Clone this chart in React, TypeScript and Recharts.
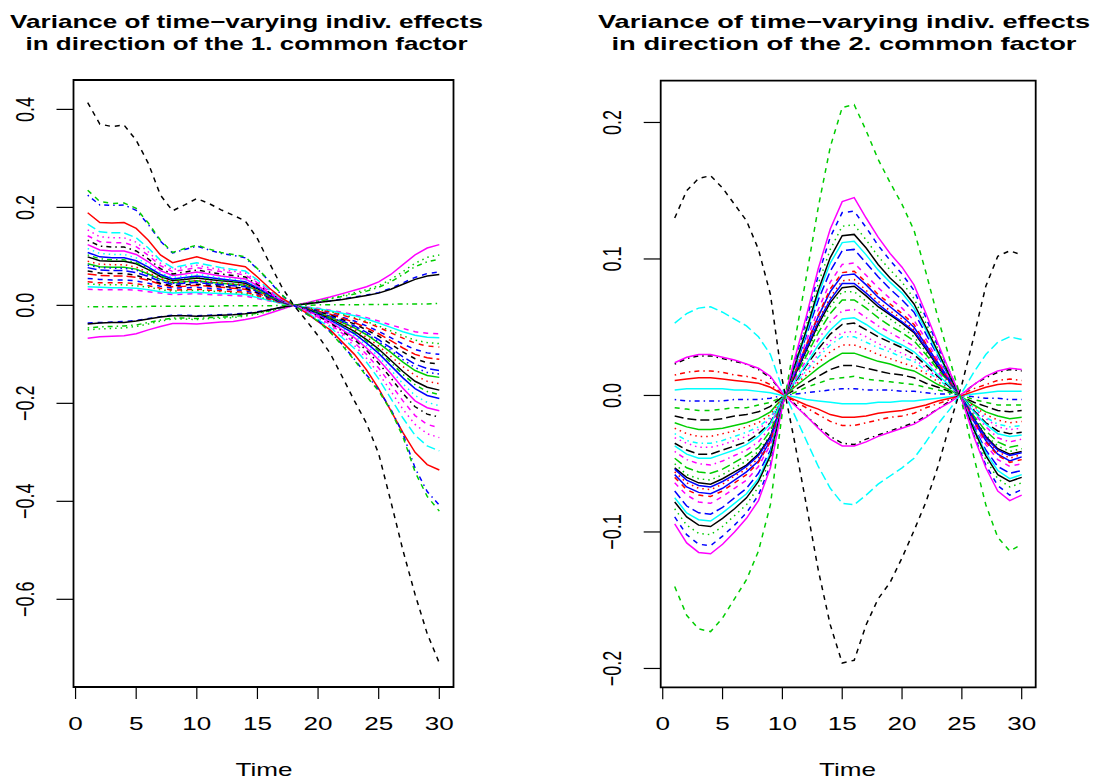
import React from "react"
import { LineChart, Line, XAxis, YAxis, ReferenceArea } from "recharts"

const BLACK = "#000000"
const RED = "#ff0000"
const GREEN = "#00cd00"
const BLUE = "#0000ff"
const CYAN = "#00ffff"
const MAGENTA = "#ff00ff"

const SOLID = undefined
const DASHED = "5 5"
const DOTTED = "1.5 4"
const DOTDASH = "1.5 4 5 4"
const LONGDASH = "9 4"

const FONT = "'Liberation Sans', Arial, Helvetica, sans-serif"
const SX = 1.45

const TIME = [1, 2, 3, 4, 5, 6, 7, 8, 9, 10, 11, 12, 13, 14, 15, 16, 17, 18, 19, 20, 21, 22, 23, 24, 25, 26, 27, 28, 29, 30]
const X_TICKS = [0, 5, 10, 15, 20, 25, 30]
const LEFT_Y_TICKS = [0.4, 0.2, 0, -0.2, -0.4, -0.6]
const RIGHT_Y_TICKS = [0.2, 0.1, 0, -0.1, -0.2]
const TITLE_1 = ["Variance of time\u2212varying indiv. effects", "in direction of the 1. common factor"]
const TITLE_2 = ["Variance of time\u2212varying indiv. effects", "in direction of the 2. common factor"]
const X_LABEL = "Time"

// ---- panel 1: direction of the 1. common factor ----
const leftBlackDashed = [0.414, 0.37, 0.365, 0.368, 0.337, 0.29, 0.225, 0.193, 0.205, 0.218, 0.208, 0.195, 0.184, 0.172, 0.136, 0.086, 0.038, 0.0, -0.03, -0.062, -0.098, -0.146, -0.195, -0.241, -0.303, -0.4, -0.5, -0.59, -0.67, -0.73]
const leftGreenDashed = [0.235, 0.212, 0.208, 0.209, 0.198, 0.168, 0.133, 0.108, 0.116, 0.123, 0.115, 0.108, 0.104, 0.099, 0.075, 0.05, 0.022, 0.0, -0.017, -0.032, -0.055, -0.082, -0.112, -0.145, -0.175, -0.215, -0.268, -0.34, -0.39, -0.42]
const leftBlueDotdash = [0.225, 0.205, 0.204, 0.205, 0.194, 0.165, 0.131, 0.107, 0.114, 0.121, 0.113, 0.106, 0.102, 0.097, 0.074, 0.049, 0.021, 0.0, -0.017, -0.031, -0.054, -0.08, -0.11, -0.142, -0.172, -0.212, -0.262, -0.332, -0.38, -0.408]
const leftRedSolid = [0.189, 0.169, 0.168, 0.169, 0.157, 0.133, 0.103, 0.087, 0.093, 0.099, 0.092, 0.087, 0.083, 0.079, 0.058, 0.035, 0.015, 0, -0.015, -0.033, -0.05, -0.075, -0.1, -0.132, -0.17, -0.215, -0.26, -0.3, -0.325, -0.336]
const leftCyanLong = [0.166, 0.15, 0.148, 0.148, 0.138, 0.117, 0.092, 0.077, 0.082, 0.087, 0.082, 0.077, 0.073, 0.07, 0.052, 0.032, 0.013, 0, -0.013, -0.029, -0.045, -0.066, -0.088, -0.116, -0.15, -0.19, -0.23, -0.265, -0.287, -0.297]
const leftMagentaDotted = [0.154, 0.14, 0.138, 0.138, 0.129, 0.109, 0.086, 0.073, 0.078, 0.082, 0.077, 0.073, 0.07, 0.066, 0.049, 0.03, 0.012, 0, -0.012, -0.026, -0.042, -0.062, -0.082, -0.108, -0.139, -0.175, -0.212, -0.243, -0.262, -0.27]
const leftMagentaDashed = [0.142, 0.13, 0.128, 0.128, 0.12, 0.102, 0.081, 0.069, 0.073, 0.077, 0.073, 0.069, 0.066, 0.062, 0.046, 0.028, 0.012, 0, -0.011, -0.024, -0.039, -0.057, -0.076, -0.1, -0.128, -0.161, -0.195, -0.225, -0.243, -0.25]
const leftBlackDotdash = [0.133, 0.121, 0.119, 0.119, 0.111, 0.095, 0.075, 0.064, 0.068, 0.072, 0.068, 0.064, 0.061, 0.058, 0.043, 0.026, 0.011, 0, -0.01, -0.022, -0.036, -0.053, -0.07, -0.092, -0.118, -0.148, -0.18, -0.207, -0.222, -0.228]
const leftMagentaSolid = [0.124, 0.113, 0.111, 0.111, 0.104, 0.089, 0.071, 0.061, 0.064, 0.068, 0.064, 0.06, 0.057, 0.054, 0.04, 0.025, 0.01, 0, -0.01, -0.021, -0.034, -0.05, -0.066, -0.087, -0.111, -0.139, -0.169, -0.195, -0.209, -0.215]
const leftCyanDotted = [0.116, 0.106, 0.104, 0.104, 0.097, 0.083, 0.066, 0.057, 0.06, 0.063, 0.06, 0.056, 0.054, 0.051, 0.038, 0.023, 0.01, 0, -0.009, -0.02, -0.032, -0.047, -0.062, -0.082, -0.105, -0.132, -0.16, -0.184, -0.198, -0.205]
const leftBlueSolid = [0.108, 0.099, 0.097, 0.097, 0.091, 0.078, 0.063, 0.054, 0.057, 0.06, 0.057, 0.054, 0.051, 0.048, 0.036, 0.022, 0.009, 0, -0.009, -0.019, -0.03, -0.044, -0.058, -0.077, -0.098, -0.123, -0.148, -0.17, -0.184, -0.19]
const leftGreenDotdash = [0.103, 0.095, 0.093, 0.093, 0.087, 0.075, 0.06, 0.052, 0.055, 0.058, 0.055, 0.052, 0.049, 0.047, 0.035, 0.021, 0.009, 0, -0.009, -0.018, -0.028, -0.042, -0.056, -0.073, -0.093, -0.117, -0.141, -0.162, -0.176, -0.182]
const leftBlackSolid = [0.099, 0.091, 0.09, 0.09, 0.085, 0.073, 0.059, 0.051, 0.053, 0.056, 0.053, 0.05, 0.048, 0.045, 0.034, 0.021, 0.009, 0, -0.008, -0.017, -0.027, -0.04, -0.053, -0.07, -0.089, -0.112, -0.135, -0.155, -0.167, -0.173]
const leftRedDotted = [0.09, 0.084, 0.083, 0.083, 0.078, 0.067, 0.055, 0.047, 0.049, 0.051, 0.049, 0.046, 0.044, 0.042, 0.031, 0.019, 0.008, 0, -0.008, -0.016, -0.025, -0.037, -0.049, -0.065, -0.083, -0.104, -0.125, -0.143, -0.155, -0.16]
const leftBlueDotted = [0.082, 0.077, 0.076, 0.076, 0.072, 0.062, 0.052, 0.045, 0.047, 0.049, 0.046, 0.044, 0.042, 0.04, 0.029, 0.018, 0.008, 0, -0.007, -0.015, -0.023, -0.034, -0.045, -0.058, -0.074, -0.092, -0.111, -0.127, -0.137, -0.14]
const leftGreenSolid = [0.085, 0.079, 0.078, 0.078, 0.074, 0.064, 0.053, 0.046, 0.048, 0.05, 0.047, 0.045, 0.043, 0.041, 0.03, 0.018, 0.008, 0, -0.007, -0.015, -0.024, -0.035, -0.046, -0.06, -0.077, -0.096, -0.116, -0.133, -0.143, -0.147]
const leftBlueLong = [0.077, 0.072, 0.071, 0.071, 0.067, 0.059, 0.049, 0.043, 0.045, 0.047, 0.044, 0.042, 0.04, 0.038, 0.028, 0.017, 0.007, 0, -0.007, -0.014, -0.022, -0.032, -0.042, -0.055, -0.07, -0.087, -0.105, -0.12, -0.129, -0.133]
const leftBlackDashedSmall = [0.07, 0.066, 0.065, 0.065, 0.061, 0.054, 0.045, 0.04, 0.042, 0.043, 0.041, 0.039, 0.037, 0.035, 0.026, 0.016, 0.007, 0, -0.006, -0.013, -0.02, -0.029, -0.038, -0.05, -0.063, -0.079, -0.095, -0.109, -0.117, -0.12]
const leftRedLong = [0.064, 0.061, 0.06, 0.06, 0.057, 0.051, 0.043, 0.038, 0.039, 0.041, 0.039, 0.037, 0.035, 0.033, 0.025, 0.015, 0.006, 0, -0.006, -0.012, -0.018, -0.026, -0.035, -0.046, -0.058, -0.072, -0.087, -0.1, -0.107, -0.11]
const leftBlueDashed = [0.055, 0.053, 0.052, 0.052, 0.05, 0.045, 0.039, 0.035, 0.036, 0.037, 0.035, 0.033, 0.032, 0.03, 0.023, 0.014, 0.006, 0, -0.005, -0.011, -0.017, -0.024, -0.032, -0.042, -0.053, -0.066, -0.079, -0.09, -0.097, -0.1]
const leftRedDashed = [0.048, 0.046, 0.046, 0.046, 0.044, 0.04, 0.035, 0.031, 0.032, 0.033, 0.031, 0.03, 0.028, 0.027, 0.02, 0.012, 0.005, 0, -0.005, -0.009, -0.014, -0.02, -0.027, -0.035, -0.045, -0.056, -0.067, -0.077, -0.083, -0.085]
const leftGreenDotted = [0.044, 0.042, 0.042, 0.042, 0.04, 0.037, 0.032, 0.029, 0.03, 0.031, 0.029, 0.028, 0.026, 0.025, 0.019, 0.011, 0.005, 0, -0.004, -0.009, -0.013, -0.019, -0.025, -0.033, -0.042, -0.052, -0.062, -0.071, -0.076, -0.078]
const leftCyanSolid = [0.038, 0.037, 0.036, 0.036, 0.035, 0.032, 0.028, 0.025, 0.026, 0.027, 0.025, 0.024, 0.023, 0.022, 0.016, 0.01, 0.004, 0, -0.004, -0.007, -0.011, -0.016, -0.021, -0.028, -0.036, -0.045, -0.054, -0.061, -0.065, -0.066]
const leftMagentaDashedSmall = [0.033, 0.032, 0.032, 0.032, 0.031, 0.028, 0.025, 0.022, 0.023, 0.024, 0.022, 0.021, 0.02, 0.019, 0.014, 0.009, 0.004, 0, -0.003, -0.006, -0.01, -0.014, -0.019, -0.025, -0.032, -0.04, -0.047, -0.054, -0.057, -0.058]
const leftLowMagenta = [-0.067, -0.064, -0.063, -0.062, -0.058, -0.05, -0.043, -0.037, -0.037, -0.038, -0.036, -0.034, -0.033, -0.029, -0.024, -0.016, -0.008, 0, 0.005, 0.011, 0.017, 0.024, 0.031, 0.038, 0.048, 0.063, 0.083, 0.103, 0.117, 0.124]
const leftLowGreenDotted = [-0.05, -0.048, -0.047, -0.046, -0.043, -0.038, -0.032, -0.028, -0.028, -0.029, -0.027, -0.026, -0.025, -0.022, -0.018, -0.012, -0.006, 0, 0.004, 0.009, 0.014, 0.02, 0.026, 0.032, 0.04, 0.053, 0.069, 0.086, 0.098, 0.103]
const leftLowGreenDotdash = [-0.046, -0.044, -0.043, -0.042, -0.04, -0.035, -0.03, -0.026, -0.026, -0.027, -0.025, -0.024, -0.023, -0.02, -0.016, -0.011, -0.005, 0, 0.004, 0.008, 0.013, 0.018, 0.023, 0.029, 0.037, 0.048, 0.063, 0.079, 0.089, 0.094]
const leftLowBlueDashed = [-0.036, -0.035, -0.034, -0.033, -0.031, -0.027, -0.023, -0.02, -0.02, -0.021, -0.02, -0.019, -0.018, -0.016, -0.013, -0.009, -0.004, 0, 0.003, 0.006, 0.009, 0.013, 0.017, 0.021, 0.026, 0.035, 0.046, 0.057, 0.065, 0.068]
const leftLowBlack = [-0.038, -0.036, -0.035, -0.035, -0.032, -0.028, -0.024, -0.021, -0.021, -0.022, -0.021, -0.02, -0.019, -0.017, -0.014, -0.009, -0.004, 0, 0.003, 0.006, 0.009, 0.012, 0.016, 0.02, 0.025, 0.033, 0.043, 0.053, 0.06, 0.063]
const leftFlatGreen = [-0.003, -0.003, -0.003, -0.003, -0.003, -0.002, -0.002, -0.002, -0.002, -0.002, -0.002, -0.001, -0.001, -0.001, -0.001, -0.001, 0, 0, 0, 0.001, 0.001, 0.001, 0.001, 0.002, 0.002, 0.002, 0.003, 0.003, 0.003, 0.004]

// ---- panel 2: direction of the 2. common factor ----
const rightGreenDashed = [-0.14, -0.161, -0.171, -0.173, -0.163, -0.149, -0.135, -0.114, -0.08, -0.012, 0.038, 0.087, 0.138, 0.182, 0.211, 0.213, 0.194, 0.173, 0.156, 0.14, 0.121, 0.09, 0.057, 0.026, -0.005, -0.045, -0.08, -0.104, -0.114, -0.109]
const rightBlackDashed = [0.13, 0.15, 0.159, 0.161, 0.152, 0.14, 0.128, 0.107, 0.074, 0.011, -0.033, -0.08, -0.128, -0.168, -0.196, -0.194, -0.168, -0.149, -0.137, -0.119, -0.099, -0.078, -0.052, -0.021, 0.008, 0.043, 0.08, 0.102, 0.106, 0.103]
const rightCyanLong = [0.053, 0.06, 0.064, 0.065, 0.061, 0.056, 0.051, 0.043, 0.03, 0.005, -0.014, -0.033, -0.052, -0.068, -0.079, -0.08, -0.073, -0.065, -0.059, -0.053, -0.046, -0.034, -0.021, -0.01, 0.002, 0.017, 0.03, 0.039, 0.043, 0.041]
const rightMagentaSolid = [-0.094, -0.108, -0.115, -0.116, -0.109, -0.1, -0.09, -0.077, -0.053, -0.008, 0.026, 0.058, 0.093, 0.122, 0.142, 0.145, 0.13, 0.116, 0.104, 0.094, 0.081, 0.06, 0.038, 0.017, -0.003, -0.03, -0.053, -0.07, -0.077, -0.073]
const rightBlueDashed = [-0.089, -0.102, -0.109, -0.11, -0.103, -0.095, -0.086, -0.073, -0.051, -0.008, 0.024, 0.055, 0.088, 0.116, 0.134, 0.135, 0.123, 0.11, 0.099, 0.089, 0.077, 0.057, 0.036, 0.017, -0.003, -0.029, -0.051, -0.066, -0.073, -0.069]
const rightGreenDotted = [-0.083, -0.095, -0.101, -0.102, -0.096, -0.088, -0.08, -0.067, -0.047, -0.007, 0.022, 0.051, 0.082, 0.107, 0.124, 0.125, 0.114, 0.102, 0.092, 0.083, 0.071, 0.053, 0.034, 0.015, -0.003, -0.027, -0.047, -0.061, -0.067, -0.064]
const rightBlackSolid = [-0.078, -0.089, -0.095, -0.096, -0.09, -0.083, -0.075, -0.063, -0.044, -0.007, 0.021, 0.048, 0.077, 0.101, 0.117, 0.118, 0.108, 0.096, 0.086, 0.078, 0.067, 0.05, 0.032, 0.014, -0.003, -0.025, -0.044, -0.058, -0.063, -0.06]
const rightCyanSolid = [-0.075, -0.086, -0.091, -0.092, -0.086, -0.079, -0.072, -0.061, -0.042, -0.006, 0.02, 0.046, 0.074, 0.097, 0.112, 0.113, 0.103, 0.092, 0.083, 0.075, 0.064, 0.048, 0.03, 0.014, -0.003, -0.024, -0.042, -0.055, -0.061, -0.058]
const rightBlueLong = [-0.07, -0.081, -0.086, -0.087, -0.082, -0.075, -0.068, -0.057, -0.04, -0.006, 0.019, 0.044, 0.07, 0.091, 0.106, 0.107, 0.097, 0.087, 0.078, 0.07, 0.061, 0.045, 0.029, 0.013, -0.003, -0.023, -0.04, -0.052, -0.057, -0.055]
const rightMagentaDashed = [-0.064, -0.073, -0.078, -0.079, -0.074, -0.068, -0.062, -0.052, -0.036, -0.006, 0.017, 0.04, 0.063, 0.083, 0.096, 0.097, 0.088, 0.079, 0.071, 0.064, 0.055, 0.041, 0.026, 0.012, -0.002, -0.021, -0.036, -0.047, -0.052, -0.05]
const rightRedDashed = [-0.06, -0.069, -0.073, -0.074, -0.07, -0.064, -0.058, -0.049, -0.034, -0.005, 0.016, 0.037, 0.059, 0.078, 0.09, 0.091, 0.083, 0.074, 0.067, 0.06, 0.052, 0.038, 0.024, 0.011, -0.002, -0.019, -0.034, -0.044, -0.049, -0.047]
const rightBlueSolid = [-0.058, -0.067, -0.071, -0.072, -0.068, -0.062, -0.056, -0.048, -0.033, -0.005, 0.016, 0.036, 0.058, 0.076, 0.088, 0.089, 0.081, 0.072, 0.065, 0.058, 0.05, 0.037, 0.024, 0.011, -0.002, -0.019, -0.033, -0.043, -0.048, -0.045]
const rightRedDotted = [-0.056, -0.064, -0.068, -0.069, -0.065, -0.059, -0.054, -0.046, -0.032, -0.005, 0.015, 0.035, 0.055, 0.072, 0.084, 0.085, 0.077, 0.069, 0.062, 0.056, 0.048, 0.036, 0.023, 0.01, -0.002, -0.018, -0.032, -0.041, -0.046, -0.043]
const rightBlueSolid2 = [-0.054, -0.062, -0.066, -0.067, -0.063, -0.058, -0.052, -0.044, -0.031, -0.005, 0.015, 0.034, 0.054, 0.07, 0.082, 0.082, 0.075, 0.067, 0.06, 0.054, 0.047, 0.035, 0.022, 0.01, -0.002, -0.017, -0.031, -0.04, -0.044, -0.042]
const rightBlackSolid2 = [-0.053, -0.06, -0.064, -0.065, -0.061, -0.056, -0.051, -0.043, -0.03, -0.005, 0.014, 0.033, 0.052, 0.068, 0.079, 0.08, 0.073, 0.065, 0.059, 0.053, 0.046, 0.034, 0.021, 0.01, -0.002, -0.017, -0.03, -0.039, -0.043, -0.041]
const rightGreenDotted2 = [-0.05, -0.058, -0.061, -0.062, -0.058, -0.053, -0.048, -0.041, -0.029, -0.004, 0.014, 0.031, 0.05, 0.065, 0.076, 0.076, 0.069, 0.062, 0.056, 0.05, 0.043, 0.032, 0.02, 0.009, -0.002, -0.016, -0.029, -0.037, -0.041, -0.039]
const rightGreenLong = [-0.046, -0.053, -0.056, -0.057, -0.054, -0.049, -0.044, -0.038, -0.026, -0.004, 0.013, 0.029, 0.046, 0.06, 0.07, 0.07, 0.064, 0.057, 0.051, 0.046, 0.04, 0.03, 0.019, 0.009, -0.002, -0.015, -0.026, -0.034, -0.038, -0.036]
const rightMagentaDotdash = [-0.041, -0.047, -0.05, -0.051, -0.048, -0.044, -0.04, -0.034, -0.023, -0.004, 0.011, 0.026, 0.041, 0.054, 0.062, 0.063, 0.057, 0.051, 0.046, 0.041, 0.036, 0.027, 0.017, 0.008, -0.002, -0.013, -0.023, -0.031, -0.034, -0.032]
const rightCyanSolid2 = [-0.037, -0.043, -0.046, -0.046, -0.043, -0.04, -0.036, -0.03, -0.021, -0.003, 0.01, 0.023, 0.037, 0.048, 0.056, 0.057, 0.052, 0.046, 0.041, 0.037, 0.032, 0.024, 0.015, 0.007, -0.001, -0.012, -0.021, -0.028, -0.03, -0.029]
const rightBlackLong = [-0.035, -0.04, -0.043, -0.043, -0.04, -0.037, -0.034, -0.028, -0.02, -0.003, 0.009, 0.022, 0.034, 0.045, 0.052, 0.053, 0.048, 0.043, 0.039, 0.035, 0.03, 0.022, 0.014, 0.006, -0.001, -0.011, -0.02, -0.026, -0.028, -0.027]
const rightMagentaDotted = [-0.031, -0.035, -0.038, -0.038, -0.036, -0.033, -0.03, -0.025, -0.017, -0.003, 0.008, 0.019, 0.03, 0.04, 0.046, 0.047, 0.043, 0.038, 0.034, 0.031, 0.027, 0.02, 0.013, 0.006, -0.001, -0.01, -0.017, -0.023, -0.025, -0.024]
const rightCyanDotdash = [-0.028, -0.033, -0.035, -0.035, -0.033, -0.03, -0.027, -0.023, -0.016, -0.002, 0.008, 0.018, 0.028, 0.037, 0.043, 0.043, 0.039, 0.035, 0.032, 0.028, 0.025, 0.018, 0.012, 0.005, -0.001, -0.009, -0.016, -0.021, -0.023, -0.022]
const rightRedDotted2 = [-0.024, -0.028, -0.03, -0.03, -0.028, -0.026, -0.023, -0.02, -0.014, -0.002, 0.007, 0.015, 0.024, 0.032, 0.037, 0.037, 0.034, 0.03, 0.027, 0.024, 0.021, 0.016, 0.01, 0.005, -0.001, -0.008, -0.014, -0.018, -0.02, -0.019]
const rightGreenSolid = [-0.02, -0.023, -0.025, -0.025, -0.024, -0.022, -0.02, -0.017, -0.012, -0.002, 0.006, 0.013, 0.02, 0.026, 0.031, 0.031, 0.028, 0.025, 0.023, 0.02, 0.018, 0.013, 0.008, 0.004, -0.001, -0.007, -0.012, -0.015, -0.017, -0.016]
const rightBlackLong2 = [-0.015, -0.017, -0.018, -0.018, -0.017, -0.015, -0.014, -0.012, -0.008, -0.001, 0.004, 0.009, 0.014, 0.019, 0.022, 0.022, 0.02, 0.018, 0.016, 0.015, 0.013, 0.009, 0.006, 0.003, -0.001, -0.005, -0.008, -0.011, -0.012, -0.011]
const rightGreenDashed2 = [-0.009, -0.01, -0.011, -0.011, -0.01, -0.009, -0.009, -0.007, -0.005, -0.001, 0.002, 0.006, 0.009, 0.012, 0.013, 0.014, 0.012, 0.011, 0.01, 0.009, 0.008, 0.006, 0.004, 0.002, 0, -0.003, -0.005, -0.007, -0.007, -0.007]
const rightBlueDotdash = [-0.003, -0.004, -0.004, -0.004, -0.004, -0.003, -0.003, -0.003, -0.002, 0, 0.001, 0.002, 0.003, 0.004, 0.005, 0.005, 0.004, 0.004, 0.004, 0.003, 0.003, 0.002, 0.001, 0.001, 0, -0.001, -0.002, -0.002, -0.003, -0.003]
const rightCyanSolid3 = [0.004, 0.005, 0.005, 0.005, 0.005, 0.004, 0.004, 0.003, 0.002, 0, -0.001, -0.003, -0.004, -0.005, -0.006, -0.006, -0.006, -0.005, -0.005, -0.004, -0.004, -0.003, -0.002, -0.001, 0, 0.001, 0.002, 0.003, 0.003, 0.003]
const rightRedSolid = [0.011, 0.012, 0.013, 0.013, 0.012, 0.011, 0.01, 0.009, 0.006, 0.001, -0.003, -0.007, -0.01, -0.014, -0.016, -0.016, -0.015, -0.013, -0.012, -0.011, -0.009, -0.007, -0.004, -0.002, 0, 0.003, 0.006, 0.008, 0.009, 0.008]
const rightRedDotdash = [0.015, 0.017, 0.018, 0.018, 0.017, 0.015, 0.014, 0.012, 0.008, 0.001, -0.004, -0.009, -0.014, -0.019, -0.022, -0.022, -0.02, -0.018, -0.016, -0.015, -0.013, -0.009, -0.006, -0.003, 0.001, 0.005, 0.008, 0.011, 0.012, 0.011]
const rightMagentaTop = [0.024, 0.028, 0.03, 0.03, 0.028, 0.026, 0.023, 0.02, 0.014, 0.002, -0.007, -0.015, -0.024, -0.032, -0.037, -0.037, -0.034, -0.03, -0.027, -0.024, -0.021, -0.016, -0.01, -0.005, 0.001, 0.008, 0.014, 0.018, 0.02, 0.019]
const rightBlackDotdashTop = [0.023, 0.027, 0.029, 0.029, 0.027, 0.025, 0.023, 0.019, 0.013, 0.002, -0.006, -0.015, -0.023, -0.03, -0.035, -0.036, -0.032, -0.029, -0.026, -0.023, -0.02, -0.015, -0.01, -0.004, 0.001, 0.008, 0.013, 0.017, 0.019, 0.018]

type Series = { key: string; values: number[]; color: string; dash?: string }

const LEFT_SERIES: Series[] = [
  { key: "l01", values: leftLowMagenta, color: MAGENTA, dash: SOLID },
  { key: "l02", values: leftLowGreenDotted, color: GREEN, dash: DOTTED },
  { key: "l03", values: leftLowGreenDotdash, color: GREEN, dash: DOTDASH },
  { key: "l04", values: leftLowBlueDashed, color: BLUE, dash: DASHED },
  { key: "l05", values: leftLowBlack, color: BLACK, dash: SOLID },
  { key: "l06", values: leftFlatGreen, color: GREEN, dash: DOTDASH },
  { key: "l07", values: leftMagentaDashedSmall, color: MAGENTA, dash: DASHED },
  { key: "l08", values: leftCyanSolid, color: CYAN, dash: SOLID },
  { key: "l09", values: leftGreenDotted, color: GREEN, dash: DOTTED },
  { key: "l10", values: leftRedDashed, color: RED, dash: DASHED },
  { key: "l11", values: leftBlueDashed, color: BLUE, dash: DASHED },
  { key: "l12", values: leftRedLong, color: RED, dash: LONGDASH },
  { key: "l13", values: leftBlackDashedSmall, color: BLACK, dash: DASHED },
  { key: "l14", values: leftBlueLong, color: BLUE, dash: LONGDASH },
  { key: "l15", values: leftGreenSolid, color: GREEN, dash: SOLID },
  { key: "l16", values: leftBlueDotted, color: BLUE, dash: DOTTED },
  { key: "l17", values: leftRedDotted, color: RED, dash: DOTTED },
  { key: "l18", values: leftBlackSolid, color: BLACK, dash: SOLID },
  { key: "l19", values: leftGreenDotdash, color: GREEN, dash: DOTDASH },
  { key: "l20", values: leftBlueSolid, color: BLUE, dash: SOLID },
  { key: "l21", values: leftCyanDotted, color: CYAN, dash: DOTTED },
  { key: "l22", values: leftMagentaSolid, color: MAGENTA, dash: SOLID },
  { key: "l23", values: leftBlackDotdash, color: BLACK, dash: DOTDASH },
  { key: "l24", values: leftMagentaDashed, color: MAGENTA, dash: DASHED },
  { key: "l25", values: leftMagentaDotted, color: MAGENTA, dash: DOTTED },
  { key: "l26", values: leftCyanLong, color: CYAN, dash: LONGDASH },
  { key: "l27", values: leftRedSolid, color: RED, dash: SOLID },
  { key: "l28", values: leftBlueDotdash, color: BLUE, dash: DOTDASH },
  { key: "l29", values: leftGreenDashed, color: GREEN, dash: DASHED },
  { key: "l30", values: leftBlackDashed, color: BLACK, dash: DASHED },
]

const RIGHT_SERIES: Series[] = [
  { key: "r01", values: rightBlueDotdash, color: BLUE, dash: DOTDASH },
  { key: "r02", values: rightGreenDashed2, color: GREEN, dash: DASHED },
  { key: "r03", values: rightBlackLong2, color: BLACK, dash: LONGDASH },
  { key: "r04", values: rightGreenSolid, color: GREEN, dash: SOLID },
  { key: "r05", values: rightRedDotted2, color: RED, dash: DOTTED },
  { key: "r06", values: rightCyanDotdash, color: CYAN, dash: DOTDASH },
  { key: "r07", values: rightMagentaDotted, color: MAGENTA, dash: DOTTED },
  { key: "r08", values: rightBlackLong, color: BLACK, dash: LONGDASH },
  { key: "r09", values: rightCyanSolid2, color: CYAN, dash: SOLID },
  { key: "r10", values: rightMagentaDotdash, color: MAGENTA, dash: DOTDASH },
  { key: "r11", values: rightGreenLong, color: GREEN, dash: LONGDASH },
  { key: "r12", values: rightGreenDotted2, color: GREEN, dash: DOTTED },
  { key: "r13", values: rightBlackSolid2, color: BLACK, dash: SOLID },
  { key: "r14", values: rightBlueSolid2, color: BLUE, dash: SOLID },
  { key: "r15", values: rightRedDotted, color: RED, dash: DOTTED },
  { key: "r16", values: rightBlueSolid, color: BLUE, dash: SOLID },
  { key: "r17", values: rightRedDashed, color: RED, dash: DASHED },
  { key: "r18", values: rightMagentaDashed, color: MAGENTA, dash: DASHED },
  { key: "r19", values: rightBlueLong, color: BLUE, dash: LONGDASH },
  { key: "r20", values: rightCyanSolid, color: CYAN, dash: SOLID },
  { key: "r21", values: rightBlackSolid, color: BLACK, dash: SOLID },
  { key: "r22", values: rightGreenDotted, color: GREEN, dash: DOTTED },
  { key: "r23", values: rightBlueDashed, color: BLUE, dash: DASHED },
  { key: "r24", values: rightMagentaSolid, color: MAGENTA, dash: SOLID },
  { key: "r25", values: rightCyanSolid3, color: CYAN, dash: SOLID },
  { key: "r26", values: rightRedSolid, color: RED, dash: SOLID },
  { key: "r27", values: rightRedDotdash, color: RED, dash: DOTDASH },
  { key: "r28", values: rightBlackDotdashTop, color: BLACK, dash: DOTDASH },
  { key: "r29", values: rightMagentaTop, color: MAGENTA, dash: SOLID },
  { key: "r30", values: rightCyanLong, color: CYAN, dash: LONGDASH },
  { key: "r31", values: rightBlackDashed, color: BLACK, dash: DASHED },
  { key: "r32", values: rightGreenDashed, color: GREEN, dash: DASHED },
]

function buildRows(series: Series[]) {
  return TIME.map((t, i) => {
    const row: Record<string, number> = { t }
    series.forEach((s) => { row[s.key] = s.values[i] })
    return row
  })
}

function fmtY(v: number) {
  if (v === 0) return "0.0"
  return (v < 0 ? "\u2212" : "") + Math.abs(v).toFixed(1)
}

function XTick(props: any) {
  const { x, y, payload } = props
  return (
    <g transform={`translate(${x},${y + 31}) scale(${SX},1)`}>
      <text x={0} y={0} textAnchor="middle" fontSize={18} fontFamily={FONT} fill="#000">{payload.value}</text>
    </g>
  )
}

function YTick(props: any) {
  const { x, y, payload } = props
  return (
    <g transform={`translate(${x - 22.5},${y}) scale(${SX},1) rotate(-90)`}>
      <text x={0} y={0} textAnchor="middle" fontSize={18} fontFamily={FONT} fill="#000">{fmtY(payload.value)}</text>
    </g>
  )
}

const X_DOMAIN: [number, number] = [-0.17, 31.17]

function Panel({ series, yDomain, yTicks, width, margin }: {
  series: Series[]; yDomain: [number, number]; yTicks: number[]; width: number
  margin: { top: number; right: number; bottom: number; left: number }
}) {
  const rows = buildRows(series)
  return (
    <LineChart width={width} height={780} data={rows} margin={margin}>
      <XAxis dataKey="t" type="number" domain={X_DOMAIN} ticks={X_TICKS} interval={0} allowDataOverflow
        height={1} tickSize={12} tickMargin={0} axisLine={false}
        tickLine={{ stroke: "#000", strokeWidth: 1.2 }} tick={(p: any) => <XTick {...p} />} />
      <YAxis type="number" domain={yDomain} ticks={yTicks} interval={0} allowDataOverflow
        width={1} tickSize={17} tickMargin={0} axisLine={false}
        tickLine={{ stroke: "#000", strokeWidth: 1.2 }} tick={(p: any) => <YTick {...p} />} />
      {series.map((s) => (
        <Line key={s.key} dataKey={s.key} type="linear" stroke={s.color} strokeDasharray={s.dash}
          strokeWidth={1.5} dot={false} activeDot={false} isAnimationActive={false} />
      ))}
      <ReferenceArea x1={X_DOMAIN[0]} x2={X_DOMAIN[1]} y1={yDomain[0]} y2={yDomain[1]}
        fill="none" fillOpacity={0} stroke="#000" strokeWidth={1.8} ifOverflow="visible" />
    </LineChart>
  )
}

function Title({ lines, cx, widths }: { lines: string[]; cx: number; widths: number[] }) {
  return (
    <>
      {lines.map((l, i) => (
        <text key={i} x={cx} y={i === 0 ? 27.5 : 50} textAnchor="middle" fontSize={18.5} fontWeight="bold"
          fontFamily={FONT} fill="#000" textLength={widths[i]} lengthAdjust="spacingAndGlyphs">{l}</text>
      ))}
    </>
  )
}

export default function App() {
  return (
    <div style={{ position: "absolute", left: 0, top: 0, width: 1110, height: 780, background: "#fff", overflow: "hidden" }}>
      <div style={{ position: "absolute", left: 0, top: 0 }}>
        <Panel series={LEFT_SERIES} yDomain={[-0.779, 0.46]} yTicks={LEFT_Y_TICKS} width={555}
          margin={{ top: 80, right: 101.5, bottom: 92, left: 72.5 }} />
      </div>
      <div style={{ position: "absolute", left: 555, top: 0 }}>
        <Panel series={RIGHT_SERIES} yDomain={[-0.2138, 0.2306]} yTicks={RIGHT_Y_TICKS} width={555}
          margin={{ top: 80.7, right: 74.3, bottom: 91.7, left: 104.7 }} />
      </div>
      <svg width={1110} height={780} style={{ position: "absolute", left: 0, top: 0, pointerEvents: "none" }}>
        <Title lines={TITLE_1} cx={246.5} widths={[473, 442]} />
        <Title lines={TITLE_2} cx={844} widths={[492, 465]} />
        <g transform={`translate(264,776) scale(${SX},1)`}>
          <text textAnchor="middle" fontSize={18} fontFamily={FONT} fill="#000">{X_LABEL}</text>
        </g>
        <g transform={`translate(847.5,776) scale(${SX},1)`}>
          <text textAnchor="middle" fontSize={18} fontFamily={FONT} fill="#000">{X_LABEL}</text>
        </g>
      </svg>
    </div>
  )
}
